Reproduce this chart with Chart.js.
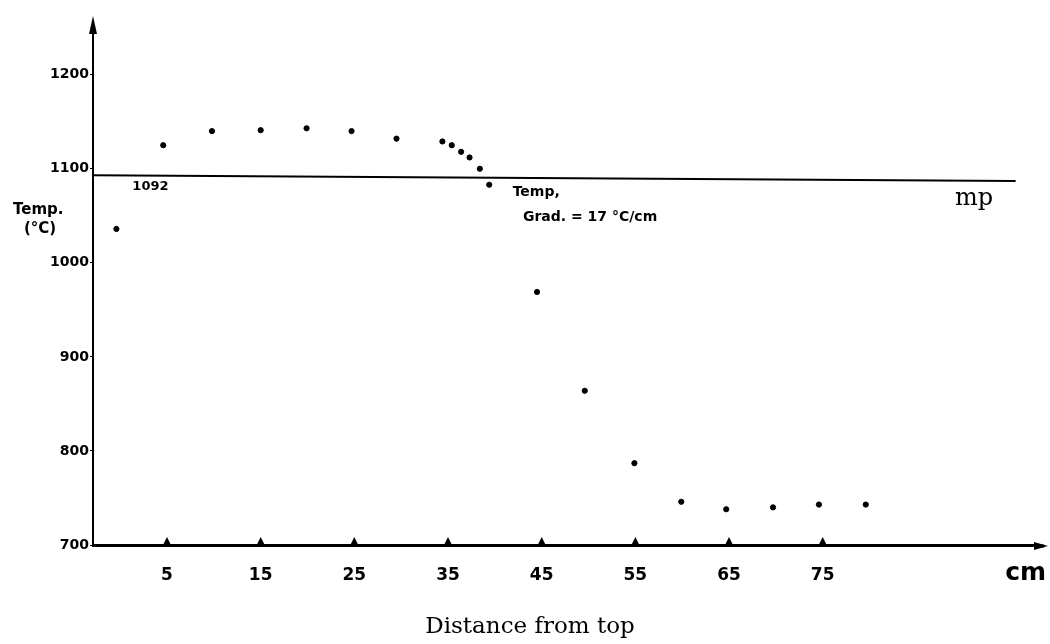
<!DOCTYPE html>
<html>
<head>
<meta charset="utf-8">
<script src="https://cdn.jsdelivr.net/npm/chart.js@4.4.1/dist/chart.umd.min.js"></script>
<style>
  body { margin: 0; background: #fff; }
  #wrap { width: 1050px; height: 644px; position: relative; }
</style>
</head>
<body>
<div id="wrap"><canvas id="chart" width="1050" height="644"></canvas></div>
<script>
// readings taken off the plot
const distance = [-0.4, 4.6, 9.8, 15, 19.9, 24.7, 29.5, 34.4, 35.4, 36.4, 37.3, 38.4, 39.4, 44.5, 49.6, 54.9, 59.9, 64.7, 69.7, 74.6, 79.6];
const temperature = [1036, 1125, 1140, 1141, 1143, 1140, 1132, 1129, 1125, 1118, 1112, 1100, 1083, 969, 864, 787, 746, 738, 740, 743, 743];
const meltLineX = [-2.9, 95.6];
const meltLineY = [1093, 1087];
const xTickValues = [5, 15, 25, 35, 45, 55, 65, 75];
const yTickValues = [700, 800, 900, 1000, 1100, 1200];

const points = distance.map((d, i) => ({ x: d, y: temperature[i] }));
const meltLine = meltLineX.map((d, i) => ({ x: d, y: meltLineY[i] }));

const boldFont = '"DejaVu Sans", sans-serif';
const serifFont = '"DejaVu Serif", serif';

// arrows, tick triangles and the text labels
const decorations = {
  id: 'decorations',
  afterDraw(chart) {
    const ctx = chart.ctx;
    const xs = chart.scales.x;
    const ys = chart.scales.y;
    const area = chart.chartArea;
    ctx.save();
    ctx.fillStyle = '#000';
    ctx.strokeStyle = '#000';

    // little triangles on the x axis
    xTickValues.forEach(v => {
      const px = xs.getPixelForValue(v);
      ctx.beginPath();
      ctx.moveTo(px - 4, area.bottom);
      ctx.lineTo(px, area.bottom - 8);
      ctx.lineTo(px + 4, area.bottom);
      ctx.closePath();
      ctx.fill();
    });

    // arrow heads
    ctx.beginPath();
    ctx.moveTo(area.left, area.top - 6);
    ctx.lineTo(area.left - 4, area.top + 12);
    ctx.lineTo(area.left + 4, area.top + 12);
    ctx.closePath();
    ctx.fill();
    ctx.beginPath();
    ctx.moveTo(area.right + 8, area.bottom + 1);
    ctx.lineTo(area.right - 6, area.bottom - 3);
    ctx.lineTo(area.right - 6, area.bottom + 5);
    ctx.closePath();
    ctx.fill();
    ctx.lineWidth = 3;
    ctx.beginPath();
    ctx.moveTo(area.right - 2, area.bottom + 1);
    ctx.lineTo(area.right + 4, area.bottom + 1);
    ctx.stroke();

    ctx.textBaseline = 'alphabetic';
    ctx.textAlign = 'left';

    ctx.font = 'bold 13px ' + boldFont;
    ctx.fillText('1092', xs.getPixelForValue(1.3), ys.getPixelForValue(1093) + 15);

    ctx.font = 'bold 14px ' + boldFont;
    ctx.fillText('Temp,', xs.getPixelForValue(41.9), ys.getPixelForValue(1093) + 21);
    ctx.fillText('Grad. = 17 \u00B0C/cm', xs.getPixelForValue(43), ys.getPixelForValue(1093) + 46);

    ctx.font = 'bold 15px ' + boldFont;
    ctx.fillText('Temp.', 13, 214);
    ctx.fillText('(\u00B0C)', 24, 233);

    ctx.font = '24px ' + serifFont;
    ctx.fillText('mp', 955, 205);

    ctx.font = 'bold 25px ' + boldFont;
    ctx.textAlign = 'right';
    ctx.fillText('cm', 1046, 580);

    ctx.font = '23px ' + serifFont;
    ctx.textAlign = 'center';
    ctx.fillText('Distance from top', 530, 633);
    ctx.restore();
  }
};

function mainEvent() {
  const ctx = document.getElementById('chart');
  new Chart(ctx, {
    type: 'scatter',
    data: {
      datasets: [
        {
          label: 'Temp.',
          data: points,
          backgroundColor: '#000',
          borderColor: '#000',
          pointRadius: 2.6,
          pointHoverRadius: 2.6
        },
        {
          label: 'mp',
          data: meltLine,
          showLine: true,
          borderColor: '#000',
          borderWidth: 2,
          pointRadius: 0,
          fill: false
        }
      ]
    },
    options: {
      responsive: false,
      animation: false,
      layout: { padding: { left: 0, top: 22, right: 10, bottom: 0 } },
      plugins: {
        legend: { display: false },
        tooltip: { enabled: false }
      },
      scales: {
        x: {
          type: 'linear',
          min: -2.9,
          max: 98.2,
          afterBuildTicks: (scale) => { scale.ticks = xTickValues.map(v => ({ value: v })); },
          afterFit: (scale) => { scale.height = 99; },
          grid: { display: false },
          border: { display: true, color: '#000', width: 3 },
          ticks: {
            color: '#000',
            padding: 12,
            maxRotation: 0,
            callback: (v) => String(v),
            font: { family: boldFont, size: 17, weight: 'bold' }
          }
        },
        y: {
          type: 'linear',
          min: 700,
          max: 1256,
          afterBuildTicks: (scale) => { scale.ticks = yTickValues.map(v => ({ value: v })); },
          afterFit: (scale) => { scale.width = 93; },
          grid: { display: true, drawOnChartArea: false, drawTicks: true, tickLength: 3, color: '#000', lineWidth: 1 },
          border: { display: true, color: '#000', width: 2 },
          ticks: {
            color: '#000',
            padding: 1,
            callback: (v) => String(v),
            font: { family: boldFont, size: 14, weight: 'bold' }
          }
        }
      }
    },
    plugins: [decorations]
  });
}

document.addEventListener('DOMContentLoaded', () => mainEvent());
</script>
</body>
</html>
